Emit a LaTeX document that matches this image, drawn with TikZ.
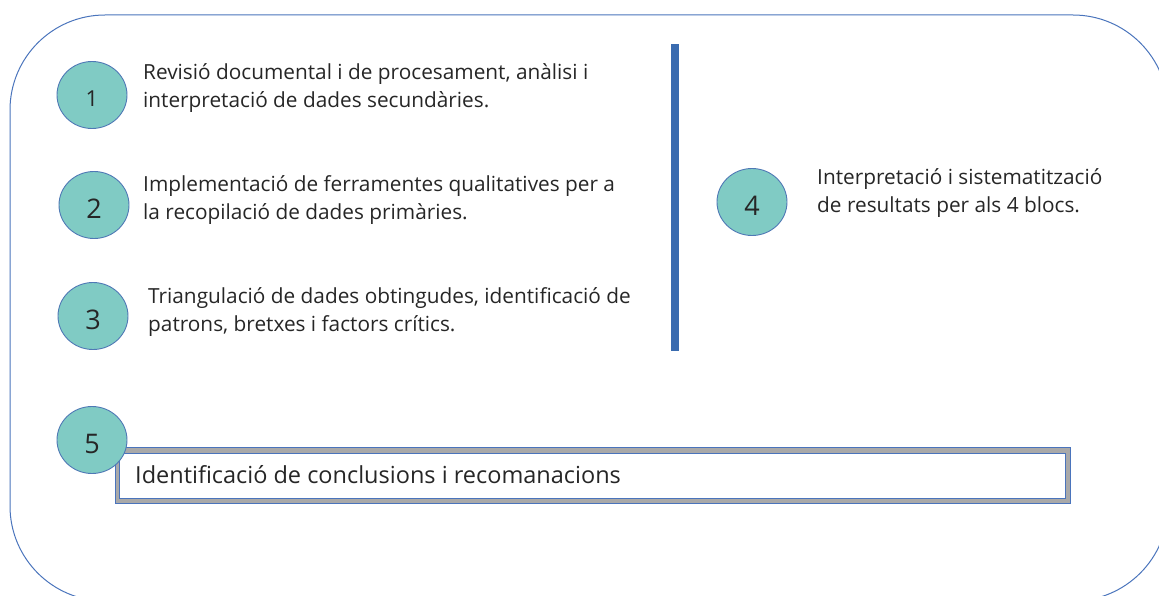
\documentclass[tikz,border=0pt]{standalone}
\usepackage{fontspec}
\setmainfont{Open Sans}
\usetikzlibrary{shapes.geometric}
\definecolor{frameblue}{HTML}{4A74BC}
\definecolor{barblue}{HTML}{3A6BAF}
\definecolor{teal}{HTML}{80CBC4}
\definecolor{circedge}{HTML}{4F78B5}
\definecolor{boxgray}{HTML}{A9A9A9}
\definecolor{txtcol}{HTML}{262626}
\tikzset{
  stepcirc/.style={ellipse, draw=circedge, line width=0.9pt, fill=teal,
    minimum width=70pt, minimum height=67pt, inner sep=0pt, text=txtcol,
    font=\fontsize{27}{27}\selectfont},
  desc/.style={anchor=west, align=left, inner sep=0pt, text=txtcol,
    font=\fontsize{20.8}{28}\selectfont},
}
\newcommand{\dg}[1]{\raisebox{-4pt}[\height][\depth]{#1}}
\begin{document}
\begin{tikzpicture}[x=1pt,y=-1pt]
\clip (0,0) rectangle (1159,596);
% outer frame
\draw[frameblue, line width=1pt, rounded corners=95pt] (10,15) rectangle (1168,601);
% vertical bar
\fill[barblue] (671,44) rectangle (679,351);
% step texts
\node[desc] (t1) at (143,88) {Revisió documental i de procesament, anàlisi i\\interpretació de dades secundàries.};
\node[desc] (t2) at (143,200) {Implementació de ferramentes qualitatives per a\\la recopilació de dades primàries.};
\node[desc] (t3) at (148,312) {Triangulació de dades obtingudes, identificació de\\patrons, bretxes i factors crítics.};
\node[desc] (t4) at (817,193) {Interpretació i sistematització\\de resultats per als 4 blocs.};
% step circles
\node[stepcirc, font=\fontsize{22}{22}\selectfont] (c1) at (92,95) {\dg{1}};
\node[stepcirc] (c2) at (94,205) {\dg{2}};
\node[stepcirc] (c3) at (93,316) {\dg{3}};
\node[stepcirc] (c4) at (752,202) {\dg{4}};
% conclusion box
\node[draw=frameblue, fill=boxgray, line width=0.8pt, minimum width=955pt, minimum height=56pt, inner sep=0pt] (b5out) at (592.5,475) {};
\node[draw=frameblue, fill=white, line width=0.8pt, minimum width=946pt, minimum height=45pt, inner sep=0pt] (b5in) at (592,475.5) {};
\node[desc, font=\fontsize{23.5}{26}\selectfont] (t5) at (135,475) {Identificació de conclusions i recomanacions};
\node[stepcirc] (c5) at (92,440) {\dg{5}};
\end{tikzpicture}
\end{document}
